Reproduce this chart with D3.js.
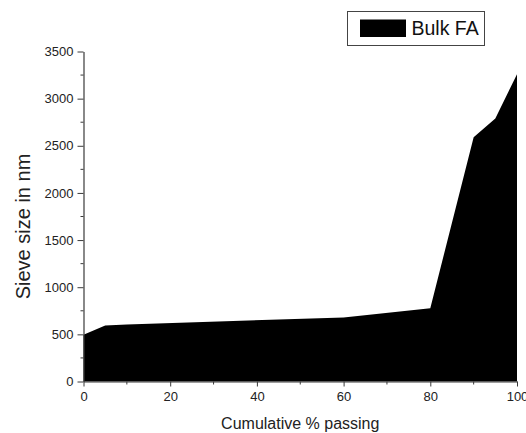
<!DOCTYPE html>
<html>
<head>
<meta charset="utf-8">
<script src="https://cdn.jsdelivr.net/npm/d3@7"></script>
<style>
  html, body { margin: 0; padding: 0; background: #fff; }
  svg { display: block; font-family: "Liberation Sans", Arial, sans-serif; }
</style>
</head>
<body>
<svg id="chart" width="526" height="433"></svg>
<script>
// Cumulative % passing vs. sieve size (nm) for bulk fly ash
const passing   = [0, 5, 10, 60, 80, 90, 95, 100];
const sieveSize = [495, 595, 605, 680, 778, 2590, 2790, 3260];

const xTicks = [0, 20, 40, 60, 80, 100];
const yTicks = [0, 500, 1000, 1500, 2000, 2500, 3000, 3500];
const xMinor = [10, 30, 50, 70, 90];
const yMinor = [250, 750, 1250, 1750, 2250, 2750, 3250];

const seriesName = "Bulk FA";
const xTitle = "Cumulative % passing";
const yTitle = "Sieve size in nm";

const svg = d3.select("#chart");
const plot = { left: 83.5, right: 517, top: 51.5, bottom: 381.5 };

const x = d3.scaleLinear().domain([0, 100]).range([plot.left, plot.right]);
const y = d3.scaleLinear().domain([0, 3500]).range([plot.bottom, plot.top]);

const points = passing.map((p, i) => ({ p, s: sieveSize[i] }));

// filled area under the curve
const area = d3.area()
  .x(d => x(d.p))
  .y0(y(0))
  .y1(d => y(d.s))
  .curve(d3.curveLinear);

svg.append("path")
  .datum(points)
  .attr("d", area)
  .attr("fill", "#000");

const axisColor = "#3a3a3a";
const textColor = "#222";
const fmt = d3.format("d");

// x axis
const gx = svg.append("g").attr("transform", `translate(0,${plot.bottom})`);
gx.call(d3.axisBottom(x).tickValues(xTicks).tickFormat(fmt)
  .tickSize(5).tickSizeOuter(0).tickPadding(5));
gx.append("g").selectAll("line").data(xMinor).join("line")
  .attr("x1", d => x(d)).attr("x2", d => x(d))
  .attr("y1", 0).attr("y2", 3)
  .attr("stroke", axisColor);

// y axis
const gy = svg.append("g").attr("transform", `translate(${plot.left},0)`);
gy.call(d3.axisLeft(y).tickValues(yTicks).tickFormat(fmt)
  .tickSize(6).tickSizeOuter(0).tickPadding(4));
gy.append("g").selectAll("line").data(yMinor).join("line")
  .attr("x1", 0).attr("x2", -3)
  .attr("y1", d => y(d)).attr("y2", d => y(d))
  .attr("stroke", axisColor);

[gx, gy].forEach(g => {
  g.select(".domain").attr("stroke", axisColor).attr("stroke-width", 1.2);
  g.selectAll(".tick line").attr("stroke", axisColor);
  g.selectAll(".tick text")
    .attr("fill", textColor)
    .style("font-size", "13px")
    .style("font-family", "'Liberation Sans', Arial, sans-serif");
});

// axis titles
svg.append("text")
  .attr("x", (plot.left + plot.right) / 2)
  .attr("y", 428.5)
  .attr("text-anchor", "middle")
  .attr("fill", textColor)
  .style("font-size", "16px")
  .text(xTitle);

svg.append("text")
  .attr("transform", `translate(29.5,${(plot.top + plot.bottom) / 2 + 10}) rotate(-90)`)
  .attr("text-anchor", "middle")
  .attr("fill", textColor)
  .style("font-size", "20px")
  .text(yTitle);

// legend
const legend = svg.append("g");
legend.append("rect")
  .attr("x", 347.5).attr("y", 11.5)
  .attr("width", 137).attr("height", 34)
  .attr("fill", "#fff")
  .attr("stroke", "#444")
  .attr("stroke-width", 1);
legend.append("rect")
  .attr("x", 360).attr("y", 19.5)
  .attr("width", 46).attr("height", 17.5)
  .attr("fill", "#000");
legend.append("text")
  .attr("x", 411.5).attr("y", 35)
  .attr("fill", "#111")
  .style("font-size", "19.5px")
  .text(seriesName);
</script>
</body>
</html>
